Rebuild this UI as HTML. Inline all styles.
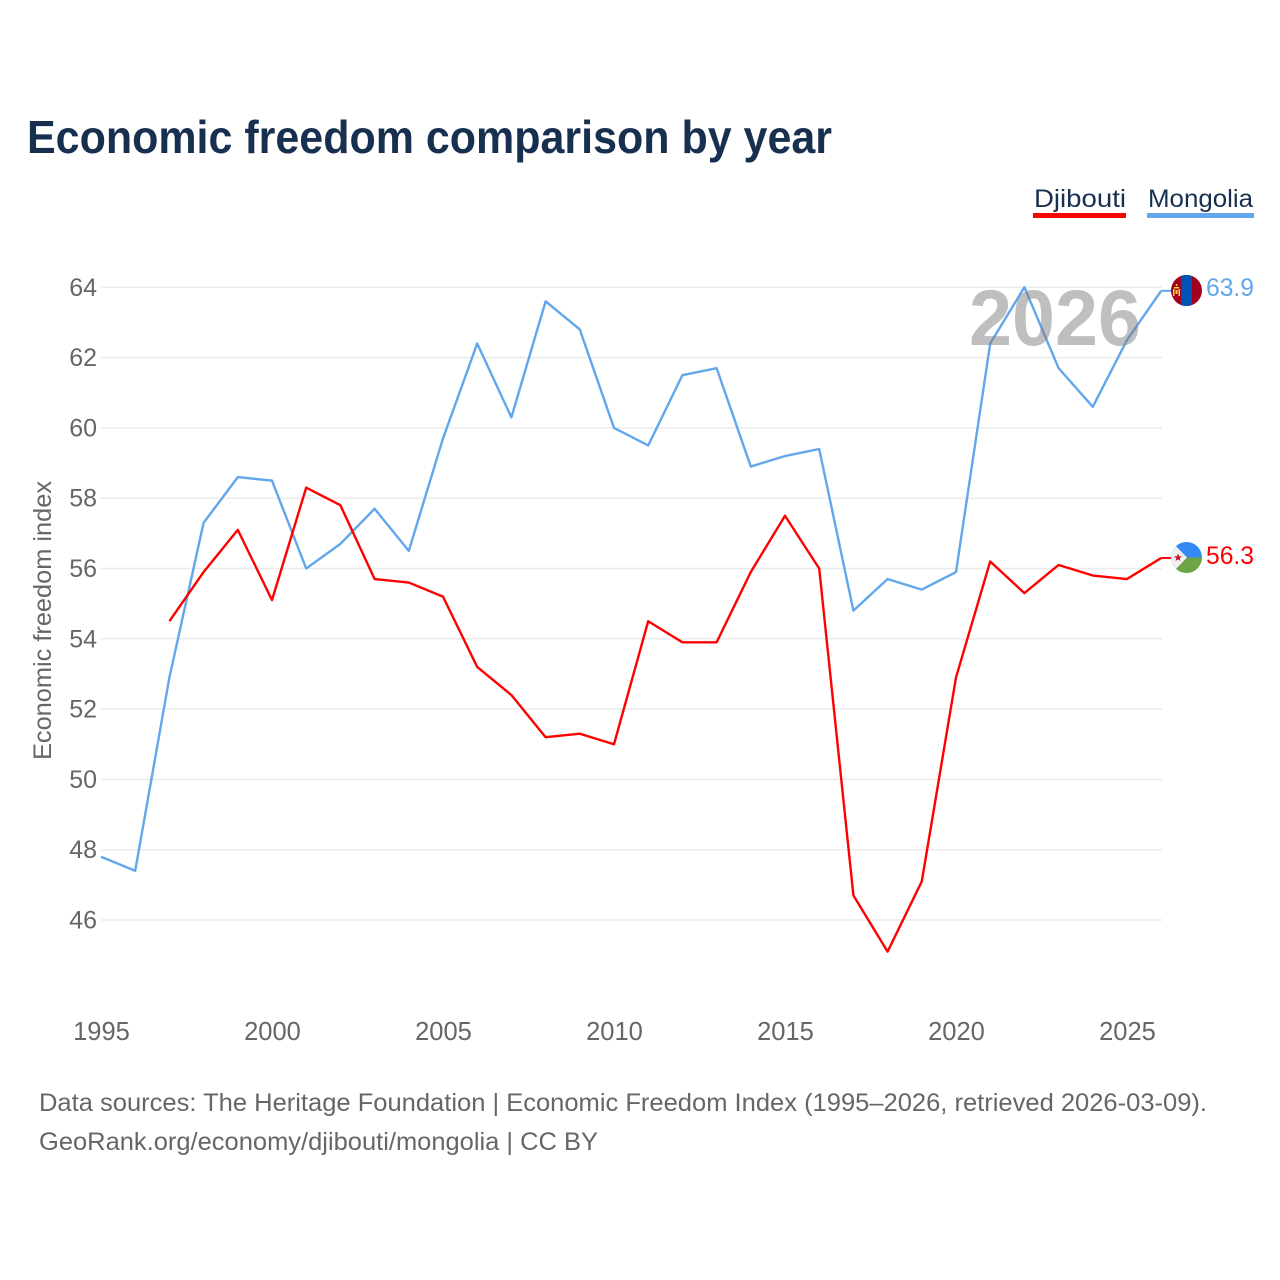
<!DOCTYPE html>
<html lang="en">
<head>
<meta charset="utf-8">
<title>Economic freedom comparison by year</title>
<style>
html,body{margin:0;padding:0;background:#fff;}
svg{display:block;font-family:"Liberation Sans",sans-serif;}
</style>
</head>
<body>
<svg id="chart" width="1280" height="1280" viewBox="0 0 1280 1280" xmlns="http://www.w3.org/2000/svg">
  <defs>
    <clipPath id="flag-clip-mn"><circle cx="1186.5" cy="290.5" r="15.5"/></clipPath>
    <clipPath id="flag-clip-dj"><circle cx="1186.5" cy="557.5" r="15.5"/></clipPath>
  </defs>
  <rect x="0" y="0" width="1280" height="1280" fill="#fff"/>
  <text x="27" y="153" font-size="46" font-weight="700" fill="#18304f" textLength="805" lengthAdjust="spacingAndGlyphs">Economic freedom comparison by year</text>

  <g>
    <g>
      <text x="1034" y="207" font-size="25" fill="#18304f" textLength="92" lengthAdjust="spacingAndGlyphs">Djibouti</text>
      <rect x="1033" y="213" width="93" height="5" fill="#ff0000"/>
    </g>
    <g>
      <text x="1148" y="207" font-size="25" fill="#18304f" textLength="105" lengthAdjust="spacingAndGlyphs">Mongolia</text>
      <rect x="1147" y="213" width="107" height="5" fill="#62a6ec"/>
    </g>
  </g>

  <g id="grid"></g>
  <g id="yticks"></g>
  <g id="xticks"></g>
  <text transform="translate(51,620.5) rotate(-90)" text-anchor="middle" font-size="25" fill="#666" textLength="279" lengthAdjust="spacingAndGlyphs">Economic freedom index</text>

  <g id="series"></g>

  <text x="969" y="345" font-size="79" font-weight="700" fill="#808080" fill-opacity="0.5" textLength="172" lengthAdjust="spacingAndGlyphs">2026</text>

  <g clip-path="url(#flag-clip-mn)">
    <rect x="1170" y="274" width="34" height="34" fill="#a2001d"/>
    <rect x="1181" y="274" width="11" height="34" fill="#0052b4"/>
    <rect x="1174" y="287" width="5" height="1.5" fill="#ffda44"/>
    <rect x="1173" y="289" width="1.5" height="7" fill="#ffda44"/>
    <rect x="1178.5" y="289" width="1.5" height="7" fill="#ffda44"/>
    <rect x="1175.5" y="290" width="2" height="4" fill="#ffda44"/>
    <rect x="1175.8" y="284" width="1.5" height="2" fill="#ffda44"/>
  </g>
  <g clip-path="url(#flag-clip-dj)">
    <rect x="1170" y="541" width="34" height="17" fill="#338af3"/>
    <rect x="1170" y="557.5" width="34" height="17" fill="#6da544"/>
    <polygon points="1171,541 1171,574 1187,557.5" fill="#f0f0f0"/>
    <polygon points="1178,553.5 1179.1,556.4 1182,556.4 1179.7,558.2 1180.5,561 1178,559.4 1175.5,561 1176.3,558.2 1174,556.4 1176.9,556.4" fill="#c8102e"/>
  </g>
  <g id="end-labels"></g>

  <text x="39" y="1111" font-size="25" fill="#666" textLength="1168" lengthAdjust="spacingAndGlyphs">Data sources: The Heritage Foundation | Economic Freedom Index (1995–2026, retrieved 2026-03-09).</text>
  <text x="39" y="1150" font-size="25" fill="#666" textLength="559" lengthAdjust="spacingAndGlyphs">GeoRank.org/economy/djibouti/mongolia | CC BY</text>
</svg>
<script>
var years = [1995,1996,1997,1998,1999,2000,2001,2002,2003,2004,2005,2006,2007,2008,2009,2010,2011,2012,2013,2014,2015,2016,2017,2018,2019,2020,2021,2022,2023,2024,2025,2026];
var mongolia = [47.8,47.4,52.9,57.3,58.6,58.5,56.0,56.7,57.7,56.5,59.7,62.4,60.3,63.6,62.8,60.0,59.5,61.5,61.7,58.9,59.2,59.4,54.8,55.7,55.4,55.9,62.4,64.0,61.7,60.6,62.5,63.9];
var djibouti = [null,null,54.5,55.9,57.1,55.1,58.3,57.8,55.7,55.6,55.2,53.2,52.4,51.2,51.3,51.0,54.5,53.9,53.9,55.9,57.5,56.0,46.7,45.1,47.1,52.9,56.2,55.3,56.1,55.8,55.7,56.3];
var yTicks = [46,48,50,52,54,56,58,60,62,64];
var xTicks = [1995,2000,2005,2010,2015,2020,2025];

var NS = 'http://www.w3.org/2000/svg';
function xScale(year){ return 101 + (year - 1995) * (1161.2 - 101) / 31; }
function yScale(v){ return 287.3 + (64 - v) * (920 - 287.3) / 18; }
function make(tag, attrs, parent){
  var el = document.createElementNS(NS, tag);
  for (var k in attrs) el.setAttribute(k, attrs[k]);
  parent.appendChild(el);
  return el;
}

var gridG = document.getElementById('grid');
var yG = document.getElementById('yticks');
var xG = document.getElementById('xticks');
var seriesG = document.getElementById('series');
var endG = document.getElementById('end-labels');

yTicks.forEach(function(t){
  var line = make('line', {x1:101, x2:1162, y1:yScale(t), y2:yScale(t), stroke:'#ebebeb', 'stroke-width':1.5}, gridG);
  
  
  var label = make('text', {x:97, y:yScale(t) + 8.5, 'text-anchor':'end', 'font-size':25, fill:'#666'}, yG);
  
  
  label.textContent = t;
});

xTicks.forEach(function(t){
  var label = make('text', {x:xScale(t) + 0.5, y:1040, 'text-anchor':'middle', 'font-size':25.5, fill:'#666'}, xG);
  
  
  label.textContent = t;
});

function pathFor(values){
  var d = '', started = false;
  values.forEach(function(v, i){
    if (v === null) return;
    d += (started ? 'L' : 'M') + xScale(years[i]).toFixed(2) + ' ' + yScale(v).toFixed(2);
    started = true;
  });
  return d;
}

var blueLine = make('path', {d:pathFor(mongolia), fill:'none', stroke:'#62a6ec', 'stroke-width':2.4, 'stroke-linejoin':'round'}, seriesG);


var redLine = make('path', {d:pathFor(djibouti), fill:'none', stroke:'#ff0000', 'stroke-width':2.4, 'stroke-linejoin':'round'}, seriesG);



var lastIndex = years.length - 1;
var blueLead = make('line', {x1:xScale(years[lastIndex]), x2:1171, y1:yScale(mongolia[lastIndex]), y2:yScale(mongolia[lastIndex]), stroke:'#62a6ec', 'stroke-width':2}, seriesG);


var redLead = make('line', {x1:xScale(years[lastIndex]), x2:1171, y1:yScale(djibouti[lastIndex]), y2:yScale(djibouti[lastIndex]), stroke:'#ff0000', 'stroke-width':2}, seriesG);



var blueEnd = make('text', {x:1206, y:296, 'font-size':25, fill:'#62a6ec', textLength:48, lengthAdjust:'spacingAndGlyphs'}, endG);


blueEnd.textContent = mongolia[lastIndex].toFixed(1);
var redEnd = make('text', {x:1206, y:564, 'font-size':25, fill:'#ff0000', textLength:48, lengthAdjust:'spacingAndGlyphs'}, endG);


redEnd.textContent = djibouti[lastIndex].toFixed(1);
</script>
</body>
</html>
